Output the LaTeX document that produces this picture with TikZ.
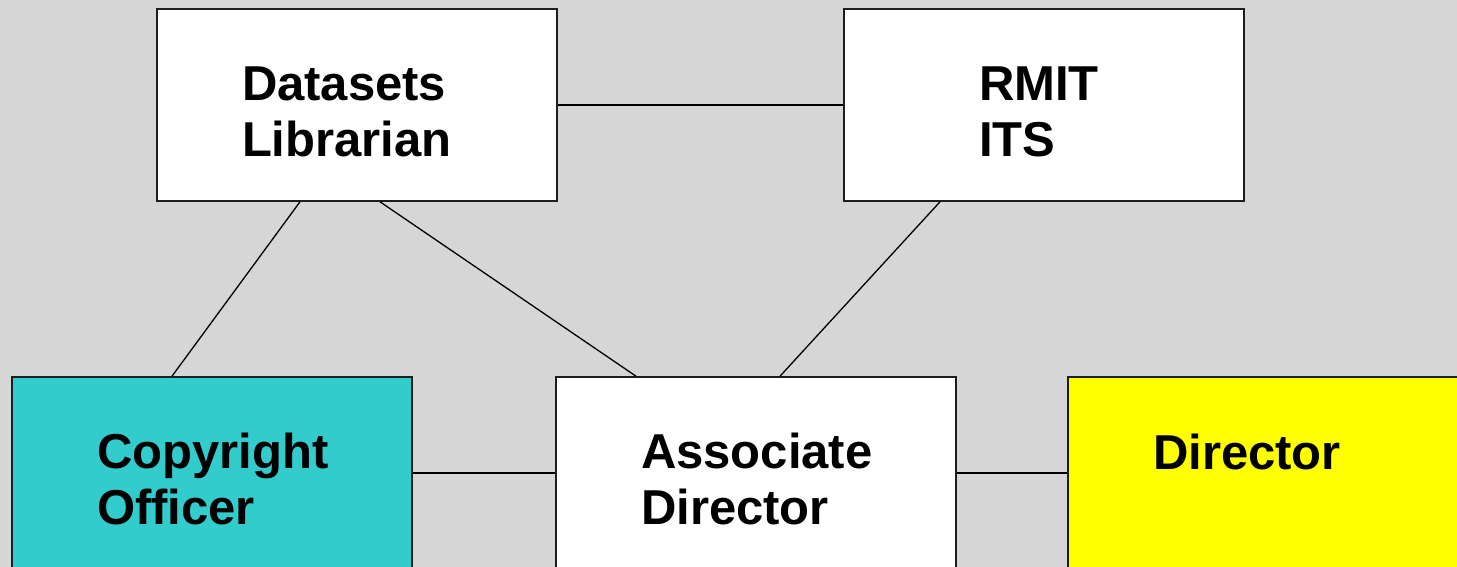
\documentclass[tikz,border=0pt]{standalone}
\usepackage{fontspec}
\setmainfont{Liberation Sans}
\usepackage{xcolor}
\usepackage{tikz}
\usetikzlibrary{positioning, calc}
\definecolor{pagegray}{RGB}{214,214,214}
\definecolor{copyteal}{RGB}{51,204,204}
\definecolor{diryellow}{RGB}{255,255,0}
\definecolor{boxedge}{RGB}{30,30,30}

\begin{document}
\begin{tikzpicture}[x=1pt,y=-1pt,
    unitbox/.style={rectangle,draw=boxedge,fill=white,line width=1.6pt,minimum width=400pt,minimum height=192pt,inner sep=0pt,text width=230pt,text height=48pt,align=left,font=\fontsize{49}{56}\selectfont\bfseries},
    link/.style={line width=1.3pt,black}]
    % Sfondo
    \clip (0,0) rectangle (1457,567);
    \fill[pagegray] (0,0) rectangle (1457,567);

    % Riga superiore
    \node[unitbox] (datasets) at (357,105) {Datasets\\Librarian};
    \node[unitbox,text width=130pt] (rmit) at (1044,105) {RMIT\\ITS};

    % Riga inferiore
    \node[unitbox,fill=copyteal] (copyright) at (212,473) {Copyright\\Officer};
    \node[unitbox] (associate) at (756,473) {Associate\\Director};
    \node[unitbox,fill=diryellow] (director) at (1268,473) {Director\\\mbox{}};

    % Collegamenti
    \draw[link] (datasets.east) -- (rmit.west);
    \draw[link] ([xshift=-57pt]datasets.south) -- ([xshift=-40pt]copyright.north);
    \draw[link] ([xshift=23pt]datasets.south) -- ([xshift=-120pt]associate.north);
    \draw[link] ([xshift=-104pt]rmit.south) -- ([xshift=24pt]associate.north);
    \draw[link] (copyright.east) -- (associate.west);
    \draw[link] (associate.east) -- (director.west);
\end{tikzpicture}
\end{document}
